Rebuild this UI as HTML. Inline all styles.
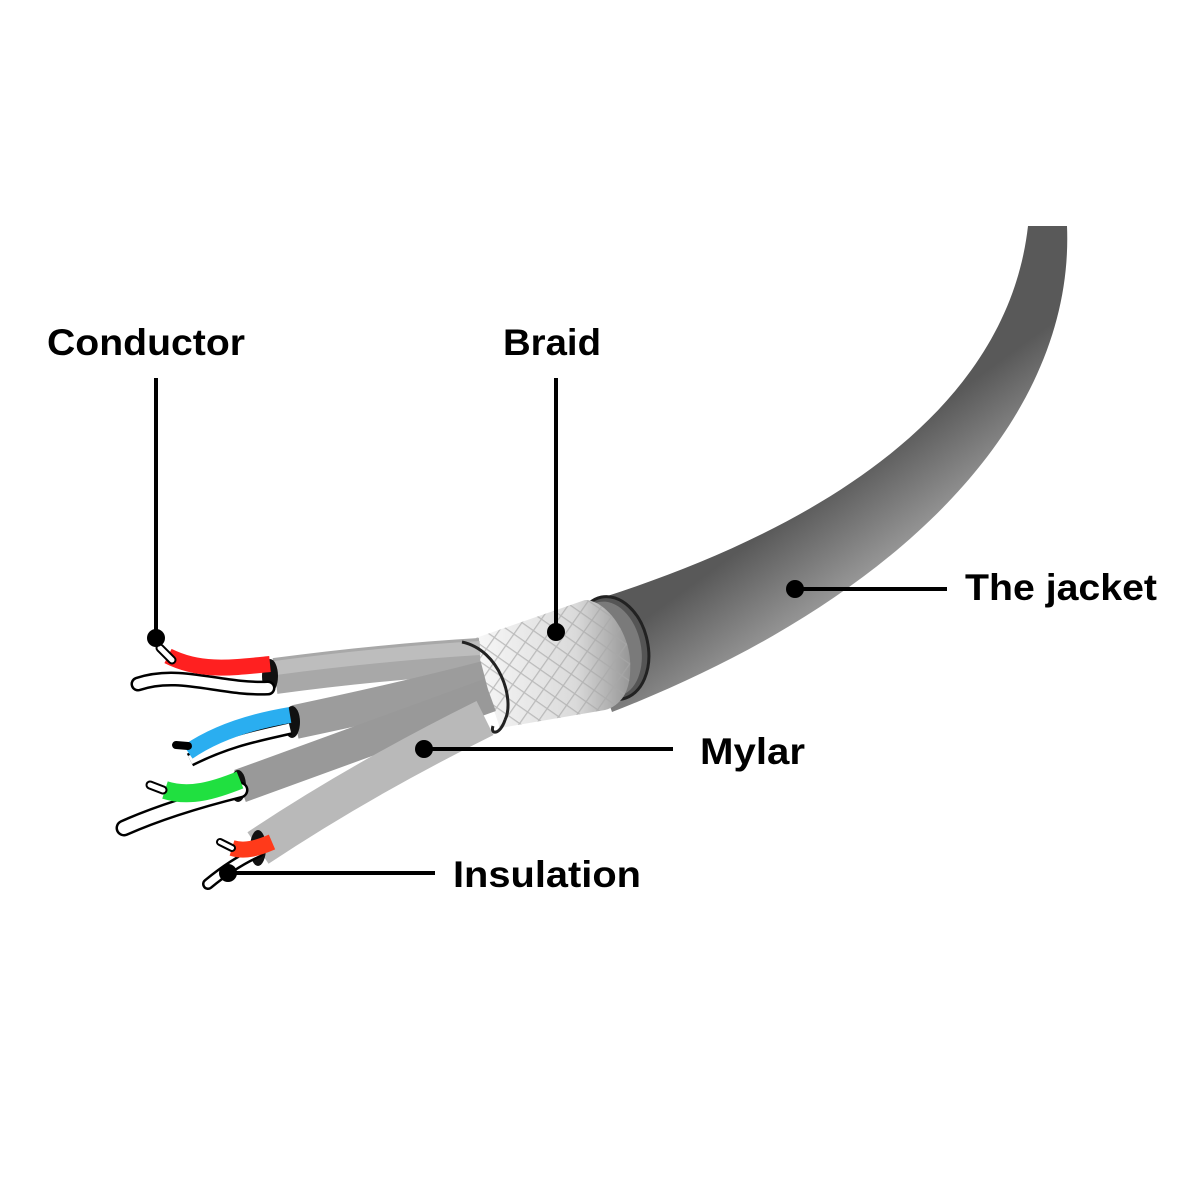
<!DOCTYPE html>
<html><head><meta charset="utf-8"><style>
html,body{margin:0;padding:0;background:#fff}
svg{display:block}
text{font-family:"Liberation Sans",sans-serif;font-weight:bold;font-size:37px;fill:#000}
</style></head><body>
<svg width="1200" height="1200" viewBox="0 0 1200 1200" xmlns="http://www.w3.org/2000/svg">
<defs>
<linearGradient id="jk2" gradientUnits="userSpaceOnUse" x1="850" y1="470" x2="930" y2="580">
<stop offset="0" stop-color="#595959"/><stop offset="0.6" stop-color="#8e8e8e"/><stop offset="1" stop-color="#b0b0b0"/>
</linearGradient>
<linearGradient id="br" gradientUnits="userSpaceOnUse" x1="480" y1="0" x2="640" y2="0">
<stop offset="0" stop-color="#f6f6f6"/><stop offset="0.6" stop-color="#dadada"/><stop offset="1" stop-color="#8a8a8a"/>
</linearGradient>
<pattern id="mesh" width="14" height="14" patternUnits="userSpaceOnUse" patternTransform="rotate(35)">
<path d="M0 0H14M0 0V14" stroke="#a8a8a8" stroke-width="2.5" fill="none"/>
</pattern>
</defs>

<path d="M1028,226 C1005,430 780,545 575,606 L612,712 C900,600 1075,420 1067,226 Z" fill="url(#jk2)"/>
<ellipse cx="612" cy="648" rx="36" ry="52" transform="rotate(-12 612 648)" fill="#555" stroke="#222" stroke-width="3"/>
<ellipse cx="609" cy="649" rx="32" ry="48" transform="rotate(-12 609 649)" fill="#7a7a7a"/>

<path d="M470,640 L585,600 C605,600 628,630 630,660 C632,690 622,705 605,710 L500,728 Z" fill="url(#br)"/>
<path d="M470,640 L585,600 C605,600 628,630 630,660 C632,690 622,705 605,710 L500,728 Z" fill="url(#mesh)" opacity="0.7"/>

<path d="M275,676 Q380,662 480,656" stroke="#a8a8a8" stroke-width="36" fill="none"/>
<path d="M275,668 Q380,654 480,648" stroke="#bdbdbd" stroke-width="14" fill="none"/>
<path d="M295,722 Q400,700 485,678" stroke="#9c9c9c" stroke-width="34" fill="none"/>
<path d="M240,786 Q360,742 490,695" stroke="#999" stroke-width="34" fill="none"/>
<path d="M258,848 Q360,780 485,718" stroke="#b9b9b9" stroke-width="38" fill="none"/>
<path d="M462,642 C500,650 515,700 505,720 M505,720 C500,735 490,735 493,726" stroke="#222" stroke-width="3" fill="none"/>

<ellipse cx="270" cy="676" rx="8" ry="17" fill="#111"/>
<ellipse cx="292" cy="722" rx="8" ry="16" fill="#111"/>
<ellipse cx="238" cy="786" rx="8" ry="16" fill="#111"/>
<ellipse cx="258" cy="848" rx="8" ry="18" fill="#111"/>

<path d="M138,684 C180,670 220,690 268,688" stroke="#000" stroke-width="15" fill="none" stroke-linecap="round"/>
<path d="M138,684 C180,670 220,690 268,688" stroke="#fff" stroke-width="10" fill="none" stroke-linecap="round"/>
<path d="M168,656 C200,672 230,668 270,664" stroke="#ff2020" stroke-width="16" fill="none"/>
<path d="M160,648 L172,660" stroke="#000" stroke-width="9" stroke-linecap="round"/>
<path d="M160,648 L172,660" stroke="#fff" stroke-width="5" stroke-linecap="round"/>

<path d="M190,760 C230,740 260,735 290,728" stroke="#000" stroke-width="14" fill="none"/>
<path d="M190,760 C230,740 260,735 290,728" stroke="#fff" stroke-width="9" fill="none"/>
<path d="M188,752 C220,730 260,720 290,715" stroke="#2aaef0" stroke-width="16" fill="none"/>
<path d="M176,745 L188,746" stroke="#000" stroke-width="8" stroke-linecap="round"/>

<path d="M124,828 C160,812 200,800 240,790" stroke="#000" stroke-width="17" fill="none" stroke-linecap="round"/>
<path d="M124,828 C160,812 200,800 240,790" stroke="#fff" stroke-width="12" fill="none" stroke-linecap="round"/>
<path d="M165,790 C190,798 215,790 240,780" stroke="#20e040" stroke-width="18" fill="none"/>
<path d="M150,785 L163,790" stroke="#000" stroke-width="9" stroke-linecap="round"/>
<path d="M150,785 L163,790" stroke="#fff" stroke-width="5" stroke-linecap="round"/>

<path d="M208,884 C225,870 240,860 258,852" stroke="#000" stroke-width="12" fill="none" stroke-linecap="round"/>
<path d="M208,884 C225,870 240,860 258,852" stroke="#fff" stroke-width="7" fill="none" stroke-linecap="round"/>
<path d="M232,848 C245,852 258,848 272,842" stroke="#ff3a1a" stroke-width="16" fill="none"/>
<path d="M220,842 L232,848" stroke="#000" stroke-width="8" stroke-linecap="round"/>
<path d="M220,842 L232,848" stroke="#fff" stroke-width="4" stroke-linecap="round"/>

<g stroke="#000" stroke-width="4">
<line x1="156" y1="378" x2="156" y2="638"/>
<line x1="556" y1="378" x2="556" y2="632"/>
<line x1="795" y1="589" x2="947" y2="589"/>
<line x1="424" y1="749" x2="673" y2="749"/>
<line x1="228" y1="873" x2="435" y2="873"/>
</g>
<g fill="#000">
<circle cx="156" cy="638" r="9"/>
<circle cx="556" cy="632" r="9"/>
<circle cx="795" cy="589" r="9"/>
<circle cx="424" cy="749" r="9"/>
<circle cx="228" cy="873" r="9"/>
</g>

<text x="47" y="355" textLength="198" lengthAdjust="spacingAndGlyphs">Conductor</text>
<text x="503" y="355" textLength="98" lengthAdjust="spacingAndGlyphs">Braid</text>
<text x="965" y="600" textLength="192" lengthAdjust="spacingAndGlyphs">The jacket</text>
<text x="700" y="764" textLength="105" lengthAdjust="spacingAndGlyphs">Mylar</text>
<text x="453" y="887" textLength="188" lengthAdjust="spacingAndGlyphs">Insulation</text>
</svg>
</body></html>
